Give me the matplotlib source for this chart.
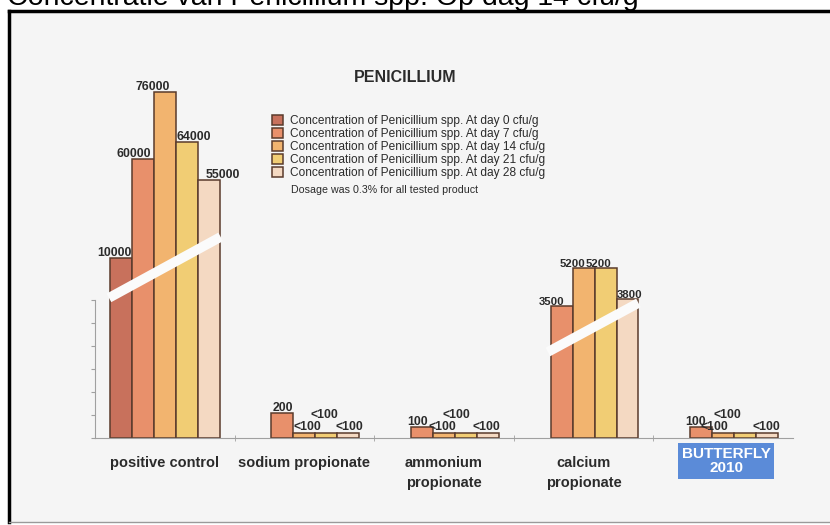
import numpy as np
import matplotlib
matplotlib.use("Agg")
import matplotlib.pyplot as plt
from matplotlib.patches import Rectangle
from matplotlib.lines import Line2D

plt.rcParams['font.family'] = ['Liberation Sans', 'DejaVu Sans']

# data
groups = ["positive control", "sodium propionate", "ammonium\npropionate",
          "calcium\npropionate", "BUTTERFLY\n2010"]
days = ["0", "7", "14", "21", "28"]
day0 = [10000, np.nan, np.nan, np.nan, np.nan]
day7 = [60000, 200, 100, 3500, 100]
day14 = [76000, 50, 50, 5200, 50]
day21 = [64000, 50, 50, 5200, 50]
day28 = [55000, 50, 50, 3800, 50]
series = [day0, day7, day14, day21, day28]

lab0 = ["10000", "", "", "", ""]
lab7 = ["60000", "200", "100", "3500", "100"]
lab14 = ["76000", "<100", "<100", "5200", "<100"]
lab21 = ["64000", "<100", "<100", "5200", "<100"]
lab28 = ["55000", "<100", "<100", "3800", "<100"]
labels = [lab0, lab7, lab14, lab21, lab28]

# broken (piecewise) value axis as in the original scan
break_vals = [0, 100, 200, 3500, 5200, 10000, 55000, 76000, 80000]
break_hts = [0, 11, 25, 132, 170, 180, 258, 346, 363]

def fwd(v):
    return np.interp(v, break_vals, break_hts)

def inv(h):
    return np.interp(h, break_hts, break_vals)

colors = ['#c8715c', '#e8906b', '#f2b46f', '#f1cd74', '#f4d9c2']
edge = '#5a3b2c'
txt = '#2b2b2b'

# label nudges in pixels (dx per bar, dy per bar)
dx = [[-6, 0, 0, 0, 0],
      [-9, 0, -5, -10, -6],
      [-12, 3, -2, -11, -9],
      [7, -2, -10, -7, -18],
      [14, 1, -1, 2, -1]]
dy = [[0, 0, 0, 0, 0],
      [0, 0, 0, 0, 0],
      [0, 0, 0, 0, 0],
      [0, 13, 13, 0, 13],
      [0, 0, 0, 0, 0]]

fig = plt.figure(figsize=(8.3, 5.25), dpi=100)
fig.patch.set_facecolor('white')
W, H = 830, 525

# scanned page frame
fig.patches.append(Rectangle((9 / W, 3 / H), 1, 1 - 14 / H, transform=fig.transFigure,
                             facecolor='#f5f5f5', edgecolor='none', zorder=-2))
fig.lines.append(Line2D([9 / W, 9 / W], [3 / H, 1 - 11 / H], transform=fig.transFigure,
                        color='black', lw=2.5, zorder=-1))
fig.lines.append(Line2D([9 / W, 1], [1 - 11 / H, 1 - 11 / H], transform=fig.transFigure,
                        color='black', lw=2.5, zorder=-1))
fig.lines.append(Line2D([9 / W, 1], [3 / H, 3 / H], transform=fig.transFigure,
                        color='#9a9a9a', lw=1, zorder=-1))

fig.text(7 / W, 1 - 5 / H, "Concentratie van Penicillium spp. Op dag 14 cfu/g",
         fontsize=20.5, va='baseline', ha='left', color='black')

ax = fig.add_axes([95 / W, 87 / H, 698 / W, 363 / H])
ax.set_facecolor('none')
ax.set_yscale('function', functions=(fwd, inv))
ax.set_ylim(0, 80000)
ax.set_xlim(-0.5, len(groups) - 0.5)

x = np.arange(len(groups))
w = 22 / 140
bars = []
for i, vals in enumerate(series):
    pos = x + (i - 2) * w
    b = ax.bar(pos, vals, width=w, color=colors[i], edgecolor=edge, linewidth=1.1,
               label=f"Concentration of Penicillium spp. At day {days[i]} cfu/g", zorder=2)
    bars.append(b)
    for j, v in enumerate(vals):
        if np.isnan(v) or labels[i][j] == "":
            continue
        fs = 8.2 if j == 3 else 8.8
        ax.annotate(labels[i][j], (pos[j], v), xytext=(dx[i][j], dy[i][j] - 1),
                    textcoords='offset pixels', ha='center', va='bottom',
                    fontsize=fs, fontweight='bold', color=txt, zorder=4)

# white break stripes
ax.plot([-0.5 + 0.1, 0.5 - 0.1], [0.386, 0.554], color='#fbfbfb', lw=7,
        solid_capstyle='butt', transform=ax.get_xaxis_transform(), zorder=3)
ax.plot([3 - 1.5 * w - 0.02, 3 + 2.5 * w], [0.237, 0.372], color='#fbfbfb', lw=7,
        solid_capstyle='butt', transform=ax.get_xaxis_transform(), zorder=3)

# axes styling
for s in ['top', 'right']:
    ax.spines[s].set_visible(False)
ax.spines['bottom'].set_color('#a0a0a0')
ax.spines['bottom'].set_linewidth(0.8)
ax.spines['left'].set_color('#a0a0a0')
ax.spines['left'].set_linewidth(0.8)
ax.spines['left'].set_bounds(0, inv(138))
ax.set_yticks(inv(np.arange(0, 139, 23)))
ax.set_yticklabels([])
ax.tick_params(axis='y', length=3, color='#a0a0a0')

ax.set_xticks(x)
ax.set_xticklabels(groups[:-1] + [""], fontsize=10.5, fontweight='bold', color=txt,
                   linespacing=1.55)
ax.tick_params(axis='x', length=0, pad=13)
ax.set_xticks(x[:-1] + 0.5, minor=True)
ax.tick_params(axis='x', which='minor', length=4, direction='inout', color='#a0a0a0')

# BUTTERFLY category label in its blue box
ax.annotate(groups[-1], (x[-1], 0), xycoords=('data', 'axes fraction'),
            xytext=(3, -23), textcoords='offset pixels', ha='center', va='center',
            fontsize=11, fontweight='bold', color='white', linespacing=1.05,
            bbox=dict(boxstyle='square,pad=0.25', facecolor='#5b8bd8', edgecolor='none'))

# title and legend
fig.text(405 / W, 1 - 78 / H, "PENICILLIUM", fontsize=11.5, fontweight='bold',
         ha='center', va='center', color=txt)
ax.legend(loc='upper left', bbox_to_anchor=(266 / W, 1 - 109 / H),
          bbox_transform=fig.transFigure, frameon=False, fontsize=8.6,
          labelspacing=0.07, handlelength=0.9, handleheight=0.9,
          handletextpad=0.6, borderpad=0, labelcolor=txt)
fig.text(291 / W, 1 - 190 / H, "Dosage was 0.3% for all tested product",
         fontsize=7.7, ha='left', va='center', color=txt)

plt.savefig("out.png", dpi=100)
